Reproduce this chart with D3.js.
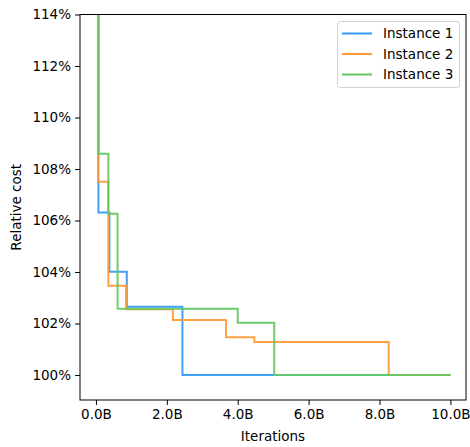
<!DOCTYPE html>
<html>
<head>
<meta charset="utf-8">
<script src="https://cdn.jsdelivr.net/npm/d3@7"></script>
<style>
  body { margin: 0; background: #fff; }
  text { font-family: "DejaVu Sans", sans-serif; }
</style>
</head>
<body>
<div id="chart"></div>
<script>
// iterations in billions, cost in percent (step after)
const iter1 = [0.06, 0.07, 0.38, 0.87, 2.44, 10.0];
const cost1 = [125, 106.31, 104.01, 102.65, 100.0, 100.0];
const iter2 = [0.05, 0.06, 0.35, 0.85, 2.17, 3.67, 4.47, 8.26, 10.0];
const cost2 = [125, 107.51, 103.47, 102.55, 102.14, 101.47, 101.28, 100.0, 100.0];
const iter3 = [0.05, 0.07, 0.35, 0.61, 4.0, 5.03, 10.0];
const cost3 = [125, 108.59, 106.26, 102.57, 102.03, 100.0, 100.0];
const seriesNames = ['Instance 1', 'Instance 2', 'Instance 3'];
const xTicks = [0, 2, 4, 6, 8, 10];
const yTicks = [100, 102, 104, 106, 108, 110, 112, 114];

const colors = ['#3397f7', '#ff9933', '#62c862'];
const fs = 13.5;
const width = 470, height = 447;
const m = { left: 80, right: 466, top: 14.5, bottom: 400 };

const svg = d3.select('#chart').append('svg')
  .attr('width', width)
  .attr('height', height);

const x = d3.scaleLinear().domain([-0.45, 10.44]).range([m.left, m.right]);
const y = d3.scaleLinear().domain([99.03, 114]).range([m.bottom, m.top]);

svg.append('clipPath').attr('id', 'clip')
  .append('rect')
  .attr('x', m.left).attr('y', m.top)
  .attr('width', m.right - m.left).attr('height', m.bottom - m.top);

const series = [
  { name: seriesNames[0], pts: iter1.map((v, i) => [v, cost1[i]]) },
  { name: seriesNames[1], pts: iter2.map((v, i) => [v, cost2[i]]) },
  { name: seriesNames[2], pts: iter3.map((v, i) => [v, cost3[i]]) }
];

const line = d3.line()
  .x(d => x(d[0]))
  .y(d => y(d[1]))
  .curve(d3.curveStepAfter);

const g = svg.append('g').attr('clip-path', 'url(#clip)');
series.forEach((s, i) => {
  g.append('path')
    .datum(s.pts)
    .attr('fill', 'none')
    .attr('stroke', colors[i])
    .attr('stroke-opacity', 0.92)
    .attr('stroke-width', 2)
    .attr('d', line);
});

// axes
const xAxis = svg.append('g')
  .attr('transform', `translate(0,${m.bottom})`)
  .call(d3.axisBottom(x).tickValues(xTicks).tickFormat(d => d.toFixed(1) + 'B').tickSize(5).tickPadding(4));
const yAxis = svg.append('g')
  .attr('transform', `translate(${m.left},0)`)
  .call(d3.axisLeft(y).tickValues(yTicks).tickFormat(d => d + '%').tickSize(5).tickPadding(4));

[xAxis, yAxis].forEach(a => {
  a.select('.domain').remove();
  a.selectAll('text').attr('font-size', fs).attr('fill', '#000')
    .style('font-family', '"DejaVu Sans", sans-serif');
  a.selectAll('line').attr('stroke', '#000').attr('stroke-width', 1);
});

// frame
svg.append('rect')
  .attr('x', m.left).attr('y', m.top)
  .attr('width', m.right - m.left).attr('height', m.bottom - m.top)
  .attr('fill', 'none').attr('stroke', '#000').attr('stroke-width', 1);

svg.append('text')
  .attr('x', (m.left + m.right) / 2).attr('y', 441)
  .attr('text-anchor', 'middle').attr('font-size', fs)
  .text('Iterations');

svg.append('text')
  .attr('transform', `translate(21,${(m.top + m.bottom) / 2}) rotate(-90)`)
  .attr('text-anchor', 'middle').attr('font-size', fs)
  .text('Relative cost');

// legend
const lg = svg.append('g');
lg.append('rect')
  .attr('x', 337.5).attr('y', 21.5)
  .attr('width', 122).attr('height', 66)
  .attr('rx', 3)
  .attr('fill', '#fff').attr('fill-opacity', 0.8)
  .attr('stroke', '#d0d0d0');
series.forEach((s, i) => {
  const yy = 33.5 + i * 20.5;
  lg.append('line')
    .attr('x1', 342).attr('x2', 372)
    .attr('y1', yy).attr('y2', yy)
    .attr('stroke', colors[i]).attr('stroke-width', 2);
  lg.append('text')
    .attr('x', 383).attr('y', yy + 4.8)
    .attr('font-size', fs)
    .text(s.name);
});
</script>
</body>
</html>
